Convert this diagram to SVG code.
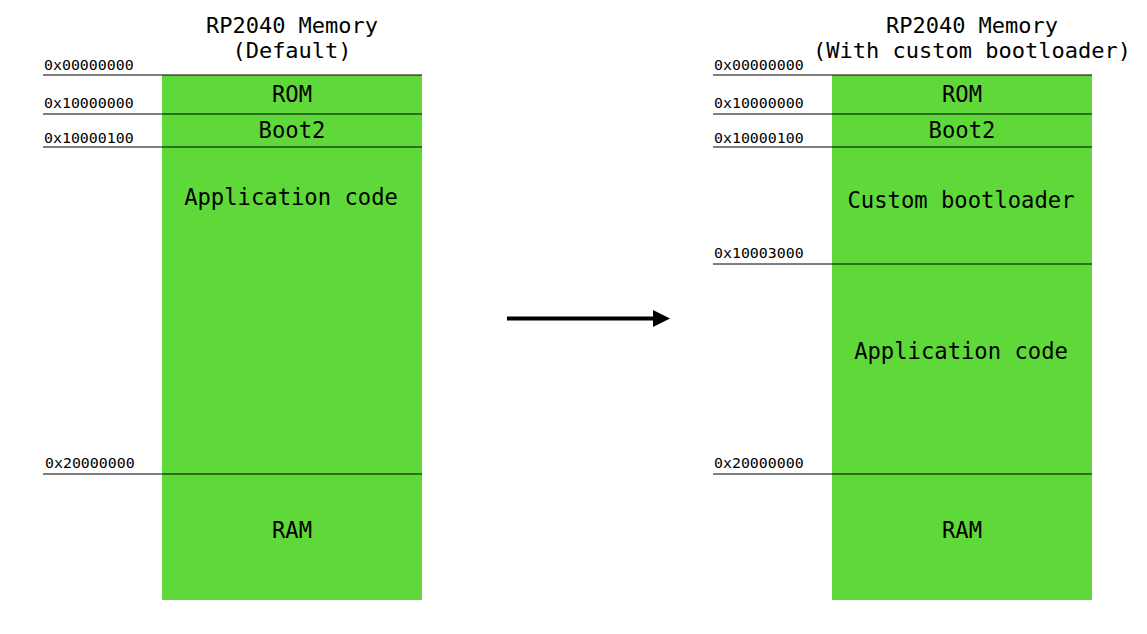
<svg xmlns="http://www.w3.org/2000/svg" width="1147" height="634" viewBox="0 0 1147 634">
<style>
.blk{fill:#5fd939;stroke:none}
.sep{stroke:#000;stroke-width:1.2}
.addr{font-family:"DejaVu Sans Mono",monospace;font-size:14.9px;fill:#000}
.lbl{font-family:"DejaVu Sans Mono",monospace;font-size:22.2px;fill:#000;text-anchor:middle}
.ttl{font-family:"DejaVu Sans Mono",monospace;font-size:22px;fill:#000;text-anchor:middle}
</style>
<defs>
<marker id="ah" markerWidth="4.25" markerHeight="4.25" refX="0" refY="2.125" orient="auto" markerUnits="strokeWidth" viewBox="0 0 4.25 4.25">
<path d="M0,0 L4.25,2.125 L0,4.25 Z" fill="#000"/>
</marker>
</defs>
<rect width="1147" height="634" fill="#fff"/>
<g id="left-memory">
<text class="ttl" x="292" y="33">RP2040 Memory</text>
<text class="ttl" x="292" y="58">(Default)</text>
<g id="left-rom"><rect class="blk" x="162" y="75" width="260" height="39"/><text class="lbl" x="292" y="102">ROM</text></g>
<g id="left-boot2"><rect class="blk" x="162" y="114" width="260" height="33"/><text class="lbl" x="292" y="138">Boot2</text></g>
<g id="left-app"><rect class="blk" x="162" y="147" width="260" height="327"/><text class="lbl" x="291" y="205">Application code</text></g>
<g id="left-ram"><rect class="blk" x="162" y="474" width="260" height="126"/><text class="lbl" x="292" y="538">RAM</text></g>
<line class="sep" x1="43" y1="75" x2="422" y2="75"/>
<line class="sep" x1="43" y1="114" x2="422" y2="114"/>
<line class="sep" x1="43" y1="147" x2="422" y2="147"/>
<line class="sep" x1="43" y1="474" x2="422" y2="474"/>
<text class="addr" x="44" y="70">0x00000000</text>
<text class="addr" x="44" y="108">0x10000000</text>
<text class="addr" x="44" y="143">0x10000100</text>
<text class="addr" x="45" y="468">0x20000000</text>
</g>
<g id="right-memory">
<text class="ttl" x="972" y="33">RP2040 Memory</text>
<text class="ttl" x="972" y="58">(With custom bootloader)</text>
<g id="right-rom"><rect class="blk" x="832" y="75" width="260" height="39"/><text class="lbl" x="962" y="102">ROM</text></g>
<g id="right-boot2"><rect class="blk" x="832" y="114" width="260" height="33"/><text class="lbl" x="962" y="138">Boot2</text></g>
<g id="right-bootloader"><rect class="blk" x="832" y="147" width="260" height="117"/><text class="lbl" x="961" y="208">Custom bootloader</text></g>
<g id="right-app"><rect class="blk" x="832" y="264" width="260" height="210"/><text class="lbl" x="961" y="359">Application code</text></g>
<g id="right-ram"><rect class="blk" x="832" y="474" width="260" height="126"/><text class="lbl" x="962" y="538">RAM</text></g>
<line class="sep" x1="713" y1="75" x2="1092" y2="75"/>
<line class="sep" x1="713" y1="114" x2="1092" y2="114"/>
<line class="sep" x1="713" y1="147" x2="1092" y2="147"/>
<line class="sep" x1="713" y1="264" x2="1092" y2="264"/>
<line class="sep" x1="713" y1="474" x2="1092" y2="474"/>
<text class="addr" x="714" y="70">0x00000000</text>
<text class="addr" x="714" y="108">0x10000000</text>
<text class="addr" x="714" y="143">0x10000100</text>
<text class="addr" x="714" y="258">0x10003000</text>
<text class="addr" x="714" y="468">0x20000000</text>
</g>
<g id="connectors">
<line x1="507" y1="318.5" x2="653" y2="318.5" stroke="#000" stroke-width="4" marker-end="url(#ah)"/>
</g>
</svg>
